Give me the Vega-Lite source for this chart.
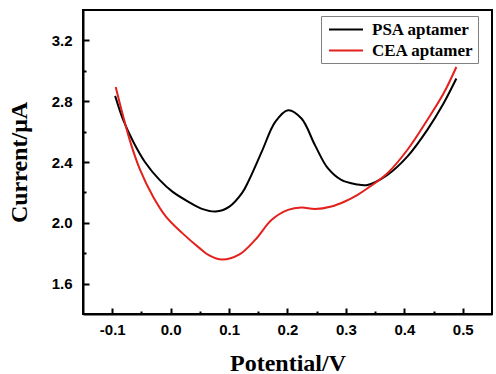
{
  "$schema": "https://vega.github.io/schema/vega-lite/v6.json",
  "width": 409,
  "height": 304,
  "autosize": {"type": "none"},
  "padding": {"left": 83, "top": 10, "right": 4, "bottom": 60},
  "config": {
    "view": {"stroke": "black", "strokeWidth": 2},
    "axis": {
      "grid": false,
      "domainColor": "black",
      "domainWidth": 2,
      "tickColor": "black",
      "tickWidth": 2,
      "labelFont": "Liberation Sans",
      "labelFontWeight": "bold",
      "labelFontSize": 15,
      "labelColor": "black",
      "titleFont": "Liberation Serif",
      "titleFontWeight": "bold",
      "titleFontSize": 24,
      "titleColor": "black"
    }
  },
  "data": {
    "values": [
      {"series": "PSA aptamer", "potential": -0.095, "current": 2.835},
      {"series": "PSA aptamer", "potential": -0.081, "current": 2.675},
      {"series": "PSA aptamer", "potential": -0.064, "current": 2.533},
      {"series": "PSA aptamer", "potential": -0.044, "current": 2.4},
      {"series": "PSA aptamer", "potential": -0.019, "current": 2.282},
      {"series": "PSA aptamer", "potential": 0.003, "current": 2.205},
      {"series": "PSA aptamer", "potential": 0.032, "current": 2.135},
      {"series": "PSA aptamer", "potential": 0.055, "current": 2.09},
      {"series": "PSA aptamer", "potential": 0.077, "current": 2.074},
      {"series": "PSA aptamer", "potential": 0.1, "current": 2.105},
      {"series": "PSA aptamer", "potential": 0.122, "current": 2.195},
      {"series": "PSA aptamer", "potential": 0.134, "current": 2.28},
      {"series": "PSA aptamer", "potential": 0.156, "current": 2.468},
      {"series": "PSA aptamer", "potential": 0.179, "current": 2.664},
      {"series": "PSA aptamer", "potential": 0.201, "current": 2.741},
      {"series": "PSA aptamer", "potential": 0.224, "current": 2.686},
      {"series": "PSA aptamer", "potential": 0.247, "current": 2.511},
      {"series": "PSA aptamer", "potential": 0.269, "current": 2.359},
      {"series": "PSA aptamer", "potential": 0.292, "current": 2.282},
      {"series": "PSA aptamer", "potential": 0.317, "current": 2.254},
      {"series": "PSA aptamer", "potential": 0.337, "current": 2.249},
      {"series": "PSA aptamer", "potential": 0.371, "current": 2.315},
      {"series": "PSA aptamer", "potential": 0.405, "current": 2.435},
      {"series": "PSA aptamer", "potential": 0.439, "current": 2.61},
      {"series": "PSA aptamer", "potential": 0.467, "current": 2.785},
      {"series": "PSA aptamer", "potential": 0.489, "current": 2.949},
      {"series": "CEA aptamer", "potential": -0.094, "current": 2.894},
      {"series": "CEA aptamer", "potential": -0.081, "current": 2.697},
      {"series": "CEA aptamer", "potential": -0.07, "current": 2.544},
      {"series": "CEA aptamer", "potential": -0.053, "current": 2.355},
      {"series": "CEA aptamer", "potential": -0.03, "current": 2.172},
      {"series": "CEA aptamer", "potential": -0.008, "current": 2.041},
      {"series": "CEA aptamer", "potential": 0.02, "current": 1.932},
      {"series": "CEA aptamer", "potential": 0.049, "current": 1.835},
      {"series": "CEA aptamer", "potential": 0.066, "current": 1.785},
      {"series": "CEA aptamer", "potential": 0.088, "current": 1.758},
      {"series": "CEA aptamer", "potential": 0.117, "current": 1.79},
      {"series": "CEA aptamer", "potential": 0.145, "current": 1.889},
      {"series": "CEA aptamer", "potential": 0.173, "current": 2.02},
      {"series": "CEA aptamer", "potential": 0.201, "current": 2.085},
      {"series": "CEA aptamer", "potential": 0.224, "current": 2.1},
      {"series": "CEA aptamer", "potential": 0.247, "current": 2.09},
      {"series": "CEA aptamer", "potential": 0.275, "current": 2.107},
      {"series": "CEA aptamer", "potential": 0.298, "current": 2.14},
      {"series": "CEA aptamer", "potential": 0.32, "current": 2.184},
      {"series": "CEA aptamer", "potential": 0.337, "current": 2.227},
      {"series": "CEA aptamer", "potential": 0.371, "current": 2.326},
      {"series": "CEA aptamer", "potential": 0.405, "current": 2.479},
      {"series": "CEA aptamer", "potential": 0.439, "current": 2.675},
      {"series": "CEA aptamer", "potential": 0.467, "current": 2.85},
      {"series": "CEA aptamer", "potential": 0.489, "current": 3.025}
    ]
  },
  "layer": [
    {
      "mark": {"type": "line", "strokeWidth": 2, "interpolate": "catmull-rom"},
      "encoding": {
        "x": {
          "field": "potential", "type": "quantitative",
          "scale": {"domain": [-0.15, 0.55], "nice": false, "zero": false},
          "axis": {"orient": "bottom", "values": [-0.1, 0, 0.1, 0.2, 0.3, 0.4, 0.5], "format": ".1f", "labelExpr": "replace(datum.label, '−', '-')", "tickSize": -6, "labelPadding": 14, "title": "Potential/V", "titlePadding": 14}
        },
        "y": {
          "field": "current", "type": "quantitative",
          "scale": {"domain": [1.4, 3.4], "nice": false, "zero": false},
          "axis": {"orient": "left", "values": [1.6, 2.0, 2.4, 2.8, 3.2], "format": ".1f", "tickSize": -6, "labelPadding": 17, "title": "Current/μA", "titlePadding": 20}
        },
        "color": {
          "field": "series", "type": "nominal",
          "scale": {"domain": ["PSA aptamer", "CEA aptamer"], "range": ["#000000", "#e3201b"]},
          "legend": {
            "title": null,
            "orient": "none",
            "legendX": 238,
            "legendY": 6,
            "symbolType": "M-2,0H2",
            "symbolSize": 289,
            "symbolStrokeWidth": 2,
            "symbolOffset": 11.5,
            "labelOffset": 16.5,
            "labelFont": "Liberation Serif",
            "labelFontWeight": "bold",
            "labelFontSize": 17,
            "labelColor": "black",
            "rowPadding": 3,
            "padding": 4,
            "strokeColor": "#808080",
            "fillColor": "white"
          }
        }
      }
    },
    {
      "mark": {"type": "line", "opacity": 0},
      "encoding": {
        "x": {
          "field": "potential", "type": "quantitative",
          "axis": {"orient": "bottom", "values": [-0.05, 0.05, 0.15, 0.25, 0.35, 0.45], "labels": false, "domain": false, "tickSize": -3, "title": null}
        },
        "y": {
          "field": "current", "type": "quantitative",
          "axis": {"orient": "left", "values": [1.8, 2.2, 2.6, 3.0], "labels": false, "domain": false, "tickSize": -3, "title": null}
        },
        "detail": {"field": "series"}
      }
    }
  ],
  "resolve": {"axis": {"x": "independent", "y": "independent"}}
}
